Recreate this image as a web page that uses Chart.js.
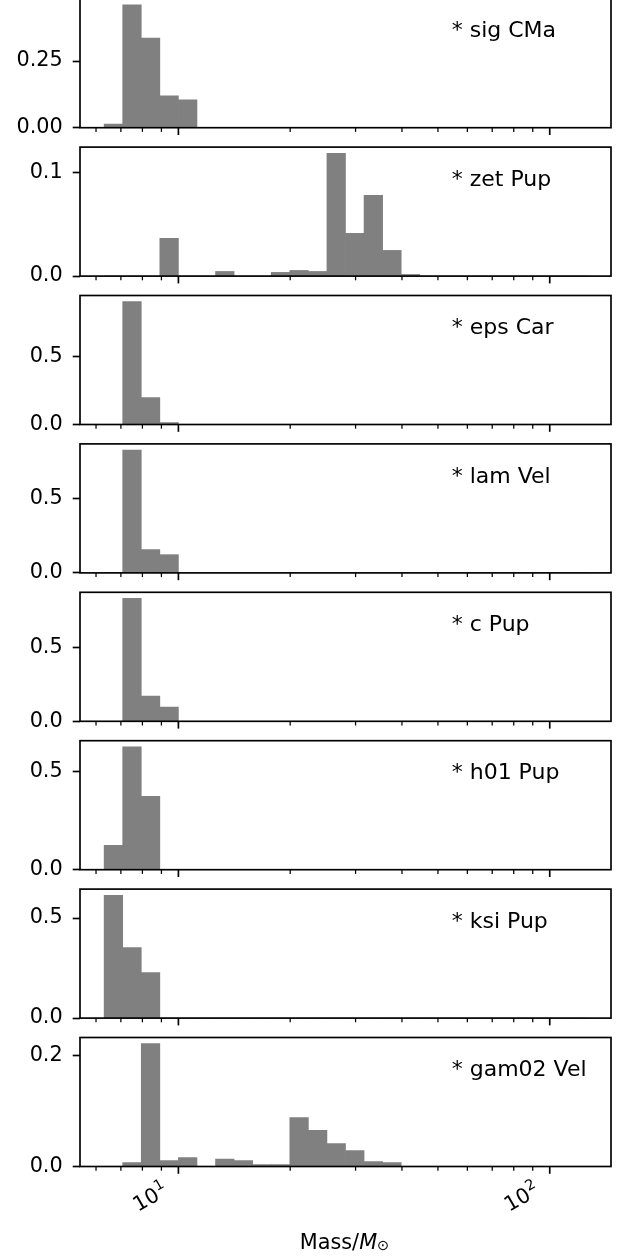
<!DOCTYPE html>
<html lang="en">
<head>
    <meta charset="utf-8"/>
    <title>Mass histograms</title>
    <script src="https://cdn.jsdelivr.net/npm/chart.js"></script>
    <style>
        body {
            margin: 0;
            width: 628px;
            height: 1259px;
            position: relative;
            overflow: hidden;
            background: #fff;
            font-family: 'DejaVu Sans', sans-serif;
        }
        .panel {
            position: absolute;
            left: 0;
        }
        #xlabel {
            position: absolute;
            left: 0;
            width: 689px;
            top: 1229.5px;
            line-height: 24px;
            text-align: center;
            font-size: 20.8px;
            color: #000;
            white-space: nowrap;
        }
        #xlabel sub {
            font-size: 14.5px;
            vertical-align: -1px;
            line-height: 0;
        }
    </style>
</head>
<body>
    <div id="fig"></div>
    <div id="xlabel">Mass/<i>M</i><sub>⊙</sub></div>

    <script>
        // log10(Mass) bin edges of the histograms
        const binEdges = [0.80, 0.85, 0.90, 0.95, 1.00, 1.05, 1.10, 1.15, 1.20, 1.25, 1.30, 1.35, 1.40,
                          1.45, 1.50, 1.55, 1.60, 1.65, 1.70, 1.75, 1.80, 1.85, 1.90, 1.95, 2.00, 2.05, 2.10];

        const starNames = ['* sig CMa', '* zet Pup', '* eps Car', '* lam Vel',
                           '* c Pup', '* h01 Pup', '* ksi Pup', '* gam02 Vel'];

        const sigCMa  = [0.014, 0.461, 0.336, 0.120, 0.105, 0, 0, 0, 0, 0, 0, 0, 0, 0, 0, 0, 0, 0, 0, 0, 0, 0, 0, 0, 0, 0];
        const zetPup  = [0, 0, 0, 0.0366, 0, 0, 0.0045, 0, 0, 0.0036, 0.0055, 0.0045, 0.119, 0.0414, 0.0783, 0.0249, 0.0016, 0, 0, 0, 0, 0, 0, 0, 0, 0];
        const epsCar  = [0, 0.909, 0.200, 0.015, 0, 0, 0, 0, 0, 0, 0, 0, 0, 0, 0, 0, 0, 0, 0, 0, 0, 0, 0, 0, 0, 0];
        const lamVel  = [0.004, 0.822, 0.156, 0.122, 0, 0, 0, 0, 0, 0, 0, 0, 0, 0, 0, 0, 0, 0, 0, 0, 0, 0, 0, 0, 0, 0];
        const cPup    = [0, 0.828, 0.170, 0.095, 0, 0, 0, 0, 0, 0, 0, 0, 0, 0, 0, 0, 0, 0, 0, 0, 0, 0, 0, 0, 0, 0];
        const h01Pup  = [0.125, 0.628, 0.375, 0, 0, 0, 0, 0, 0, 0, 0, 0, 0, 0, 0, 0, 0, 0, 0, 0, 0, 0, 0, 0, 0, 0];
        const ksiPup  = [0.614, 0.353, 0.227, 0, 0, 0, 0, 0, 0, 0, 0, 0, 0, 0, 0, 0, 0, 0, 0, 0, 0, 0, 0, 0, 0, 0];
        const gam02Vel = [0, 0.0072, 0.222, 0.0108, 0.0162, 0, 0.0132, 0.0108, 0.0036, 0.0036, 0.0883, 0.0655, 0.0414, 0.0288, 0.009, 0.0072, 0, 0, 0, 0, 0, 0, 0, 0, 0, 0];

        const series = [sigCMa, zetPup, epsCar, lamVel, cPup, h01Pup, ksiPup, gam02Vel];

        // y tick values and decimals per panel
        const yTickValues = [[0, 0.25], [0, 0.1], [0, 0.5], [0, 0.5], [0, 0.5], [0, 0.5], [0, 0.5], [0, 0.2]];
        const yTickDecimals = [2, 1, 1, 1, 1, 1, 1, 1];

        // x ticks (mass): label = base + superscript exponent
        const majorMasses = [10, 100];
        const majorBase = ['10', '10'];
        const majorExp = ['1', '2'];
        const minorMasses = [6, 7, 8, 9, 20, 30, 40, 50, 60, 70, 80, 90];

        // geometry
        const LEFT = 80, RIGHT = 611;
        const TOP0 = -1.3, STEP = 148.4, H = 129;
        const XMIN = 0.735, XMAX = 2.165;
        const FONT = 20.8;

        Chart.defaults.font.family = "'DejaVu Sans', sans-serif";
        Chart.defaults.font.size = FONT;
        Chart.defaults.color = '#000';

        const centers = binEdges.slice(0, -1).map((e, k) => (e + binEdges[k + 1]) / 2);

        const framePlugin = {
            id: 'frame',
            afterDraw(chart, args, opts) {
                const ctx = chart.ctx;
                const a = chart.chartArea;
                const xs = chart.scales.x;
                ctx.save();
                ctx.strokeStyle = '#000';
                ctx.fillStyle = '#000';
                // x ticks
                ctx.lineWidth = 1.67;
                majorMasses.forEach((m, j) => {
                    const px = xs.getPixelForValue(Math.log10(m));
                    ctx.beginPath();
                    ctx.moveTo(px, a.bottom);
                    ctx.lineTo(px, a.bottom + 7.3);
                    ctx.stroke();
                    if (opts.labels) {
                        // rotated 30 degrees, ending at the tick
                        ctx.save();
                        ctx.translate(px - 40.4, a.bottom + 45.5);
                        ctx.rotate(-Math.PI / 6);
                        ctx.textAlign = 'left';
                        ctx.textBaseline = 'alphabetic';
                        ctx.font = FONT + "px 'DejaVu Sans'";
                        ctx.fillText(majorBase[j], 0, 0);
                        const w = ctx.measureText(majorBase[j]).width;
                        ctx.font = "14.6px 'DejaVu Sans'";
                        ctx.fillText(majorExp[j], w + 0.5, -8.5);
                        ctx.restore();
                    }
                });
                ctx.lineWidth = 1.25;
                minorMasses.forEach(m => {
                    const px = xs.getPixelForValue(Math.log10(m));
                    ctx.beginPath();
                    ctx.moveTo(px, a.bottom);
                    ctx.lineTo(px, a.bottom + 4.2);
                    ctx.stroke();
                });
                // frame
                ctx.lineWidth = 1.67;
                ctx.strokeRect(a.left, a.top, a.right - a.left, a.bottom - a.top);
                // star name
                ctx.font = "22px 'DejaVu Sans'";
                ctx.textAlign = 'left';
                ctx.textBaseline = 'alphabetic';
                ctx.fillText(opts.name, a.left + 0.7 * (a.right - a.left), a.bottom - 0.7 * (a.bottom - a.top));
                ctx.restore();
            }
        };

        const fig = document.getElementById('fig');

        series.forEach((vals, i) => {
            const isLast = i === series.length - 1;
            const top = TOP0 + i * STEP;
            const canvasTop = Math.floor(top) - 10;
            const padTop = top - canvasTop;
            const xh = isLast ? 70 : 12;
            const height = Math.ceil(padTop + H + xh);

            const div = document.createElement('div');
            div.className = 'panel';
            div.style.top = canvasTop + 'px';
            const canvas = document.createElement('canvas');
            canvas.width = 628;
            canvas.height = height;
            canvas.style.width = '628px';
            canvas.style.height = height + 'px';
            div.appendChild(canvas);
            fig.appendChild(div);

            const ymax = Math.max(...vals) * 1.05;

            new Chart(canvas.getContext('2d'), {
                type: 'bar',
                data: {
                    datasets: [{
                        data: centers.map((c, k) => ({x: c, y: vals[k]})),
                        backgroundColor: '#808080',
                        borderWidth: 0,
                        barPercentage: 1,
                        categoryPercentage: 1
                    }]
                },
                options: {
                    responsive: false,
                    animation: false,
                    events: [],
                    layout: {padding: {top: padTop, right: 628 - RIGHT, left: 0, bottom: height - padTop - H - xh}},
                    plugins: {
                        legend: {display: false},
                        tooltip: {enabled: false},
                        frame: {name: starNames[i], labels: isLast}
                    },
                    scales: {
                        x: {
                            type: 'linear',
                            min: XMIN,
                            max: XMAX,
                            offset: false,
                            grid: {display: false},
                            border: {display: false},
                            ticks: {display: false},
                            afterBuildTicks: s => { s.ticks = majorMasses.map(m => ({value: Math.log10(m)})); },
                            afterFit: s => {
                                s.height = xh;
                                s.paddingLeft = 0;
                                s.paddingRight = 0;
                                s.paddingTop = 0;
                                s.paddingBottom = 0;
                            }
                        },
                        y: {
                            min: 0,
                            max: ymax,
                            grid: {
                                drawOnChartArea: false,
                                drawTicks: true,
                                tickLength: 7.3,
                                tickWidth: 1.67,
                                tickColor: '#000'
                            },
                            border: {display: false},
                            ticks: {
                                padding: 10,
                                callback: v => v.toFixed(yTickDecimals[i])
                            },
                            afterBuildTicks: s => { s.ticks = yTickValues[i].map(v => ({value: v})); },
                            afterFit: s => {
                                s.width = LEFT;
                                s.paddingTop = 0;
                                s.paddingBottom = 0;
                                s.paddingLeft = 0;
                                s.paddingRight = 0;
                            }
                        }
                    }
                },
                plugins: [framePlugin]
            });
        });
    </script>
</body>
</html>
